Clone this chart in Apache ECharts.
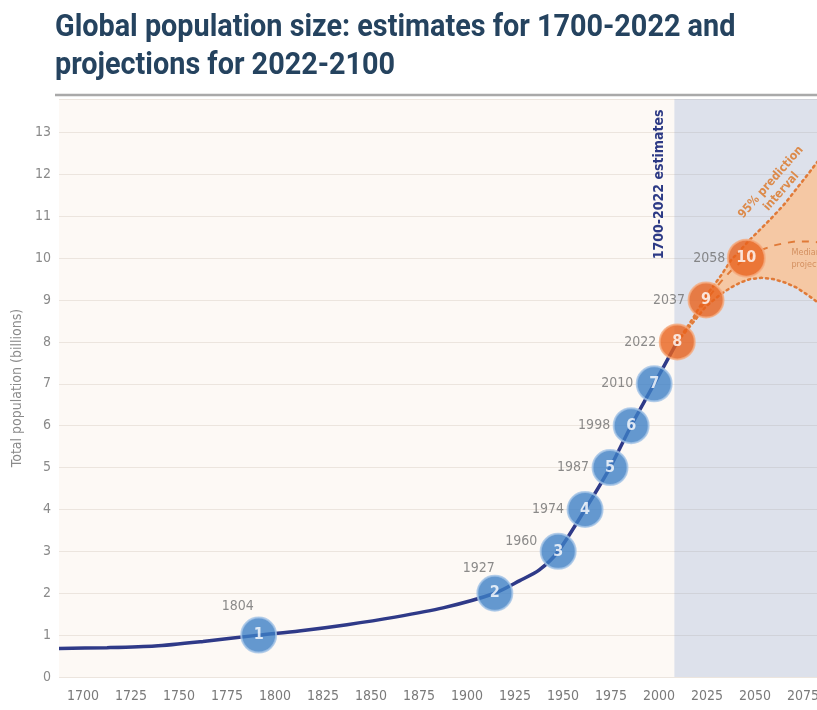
<!DOCTYPE html>
<html><head><meta charset="utf-8">
<script src="https://cdn.jsdelivr.net/npm/echarts@6/dist/echarts.min.js"></script>
<style>html,body{margin:0;padding:0;background:#fff}#c{width:817px;height:710px}</style>
</head><body><div id="c"></div>
<script>
// ---- data ----
const histYears = [1700, 1725, 1750, 1775, 1804, 1825, 1850, 1875, 1900, 1927, 1940, 1950, 1960, 1974, 1987, 1998, 2010, 2022];
const histPop   = [0.68, 0.70, 0.74, 0.85, 1.0, 1.10, 1.25, 1.43, 1.65, 2.0, 2.30, 2.55, 3.0, 4.0, 5.0, 6.0, 7.0, 8.0];
const projYears = [2022, 2030, 2037, 2045, 2050, 2055, 2060, 2066, 2072, 2078, 2084, 2090, 2095, 2100];
const medianPop = [8.0, 8.5, 9.0, 9.45, 9.7, 9.9, 10.05, 10.2, 10.3, 10.36, 10.4, 10.4, 10.38, 10.35];
const lowerPop  = [8.0, 8.45, 8.85, 9.15, 9.3, 9.42, 9.5, 9.53, 9.5, 9.42, 9.3, 9.12, 8.95, 8.75];
const upperPop  = [8.0, 8.55, 9.1, 9.6, 9.95, 10.2, 10.45, 10.72, 11.0, 11.3, 11.65, 12.0, 12.3, 12.55];
const milestoneYears = [1804, 1927, 1960, 1974, 1987, 1998, 2010, 2022, 2037, 2058];
const milestonePop   = [1, 2, 3, 4, 5, 6, 7, 8, 9, 10];
const milestoneNums  = ['1', '2', '3', '4', '5', '6', '7', '8', '9', '10'];
const titleText = 'Global population size: estimates for 1700-2022 and\nprojections for 2022-2100';
const yAxisName = 'Total population (billions)';
const estimatesLabel = '1700-2022 estimates';
const intervalLabel = '95% prediction\ninterval';
const medianLabel = 'Median\nprojection';
const projectionStart = 2020.5, projectionEnd = 2100;

// ---- styles ----
const NARROW = "'Liberation Sans Narrow','DejaVu Sans Condensed','Roboto',sans-serif";
const BLUE = '#3d80c6', BLUE_RING = '#a3c3e6';
const ORANGE = '#e8611c', ORANGE_RING = '#f5ab80';
const LINE_ORANGE = '#e07a38';

const pair = (xs, ys) => xs.map((x, i) => [x, ys[i]]);

const milestoneData = milestoneYears.map((y, i) => {
  const proj = y >= 2022;
  return {
    value: [y, milestonePop[i]],
    symbolSize: i === 9 ? 37 : 35,
    itemStyle: { color: proj ? ORANGE : BLUE, borderColor: proj ? ORANGE_RING : BLUE_RING, borderWidth: 2 },
    label: { formatter: milestoneNums[i] }
  };
});
const yearLabelData = milestoneYears.map((y, i) => {
  const d = { value: [y, milestonePop[i]], label: { formatter: String(y) } };
  if (i === 0) Object.assign(d.label, { position: 'top', distance: 5, offset: [-21, 0] });
  if (i === 1) Object.assign(d.label, { position: 'top', distance: 1, offset: [-16, 0] });
  if (i === 2) Object.assign(d.label, { offset: [0, -10] });
  return d;
});

const chart = echarts.init(document.getElementById('c'), null, { renderer: 'canvas' });
const option = {
  animation: false,
  backgroundColor: '#ffffff',
  grid: { left: 59, right: -10, top: 99, bottom: 33, show: true, backgroundColor: '#fdf9f5', borderWidth: 0,
          containLabel: false, outerBoundsMode: 'none' },
  xAxis: {
    type: 'value', min: 1700, max: 2100, interval: 25,
    axisLine: { show: false }, axisTick: { show: false }, splitLine: { show: false },
    axisLabel: { color: '#7a7a7a', fontFamily: NARROW, fontSize: 14, margin: 12, padding: [0, 0, 0, 48],
                 hideOverlap: false, formatter: v => String(v) }
  },
  yAxis: {
    type: 'value', min: 0, max: 13.8, interval: 1,
    name: yAxisName, nameLocation: 'middle', nameGap: 31,
    nameTextStyle: { color: '#8a8a8a', fontFamily: NARROW, fontSize: 14 },
    axisLine: { show: false }, axisTick: { show: false },
    axisLabel: { color: '#8a8a8a', fontFamily: NARROW, fontSize: 14, margin: 8,
                 formatter: v => (Math.abs(v - Math.round(v)) < 1e-6 ? String(Math.round(v)) : '') },
    splitLine: { lineStyle: { color: '#ece5de', width: 1.2 } }
  },
  series: [
    {
      name: 'projectionShade', type: 'custom', data: [[projectionStart, projectionEnd]], z: 0, silent: true,
      renderItem: (params, api) => {
        const a = api.coord([api.value(0), 13.8]);
        const b = api.coord([api.value(1), 0]);
        return { type: 'rect', shape: { x: a[0], y: a[1], width: b[0] - a[0], height: b[1] - a[1] },
                 style: { fill: 'rgba(115,145,205,0.23)' } };
      }
    },
    {
      name: 'band', type: 'custom', data: [[0]], z: 1, silent: true,
      renderItem: (params, api) => {
        const pts = [];
        projYears.forEach((x, i) => pts.push(api.coord([x, upperPop[i]])));
        for (let i = projYears.length - 1; i >= 0; i--) pts.push(api.coord([projYears[i], lowerPop[i]]));
        return { type: 'polygon', shape: { points: pts }, style: { fill: '#f5c8a4' } };
      }
    },
    {
      name: 'median', type: 'line', data: pair(projYears, medianPop), symbol: 'none',
      lineStyle: { color: LINE_ORANGE, width: 2, type: [7, 7] }, z: 2
    },
    {
      name: 'lower', type: 'line', data: pair(projYears, lowerPop), symbol: 'none',
      lineStyle: { color: LINE_ORANGE, width: 2.5, type: [2, 4], cap: 'round' }, z: 2
    },
    {
      name: 'upper', type: 'line', data: pair(projYears, upperPop), symbol: 'none',
      lineStyle: { color: LINE_ORANGE, width: 2.5, type: [2, 4], cap: 'round' }, z: 2
    },
    {
      name: 'estimates', type: 'line', data: pair(histYears, histPop), symbol: 'none', smooth: 0.25,
      lineStyle: { color: '#2f3a88', width: 3.5 }, z: 3
    },
    {
      name: 'yearLabels', type: 'scatter', data: yearLabelData, symbolSize: 34,
      itemStyle: { color: 'rgba(0,0,0,0)' }, z: 4, silent: true,
      label: { show: true, position: 'left', distance: 4, color: '#6e6e6e', fontFamily: NARROW, fontSize: 14 }
    },
    {
      name: 'milestones', type: 'scatter', data: milestoneData, z: 5,
      label: { show: true, position: 'inside', color: '#ffffff', fontFamily: NARROW, fontWeight: 'bold', fontSize: 16 }
    }
  ]
};
chart.setOption(option);

const px = (x, y) => chart.convertToPixel({ gridIndex: 0 }, [x, y]);
const pEst = px(2022, 11.76);
const pInt = px(2073.5, 11.7);
const pMed = px(2081.5, 10.0);
chart.setOption({
  graphic: [
    { type: 'text', x: 55, y: 9, scaleX: 0.9, z: 10,
      style: { text: titleText, fill: '#25435f', font: "bold 32px Roboto, 'DejaVu Sans', sans-serif", lineHeight: 38 } },
    { type: 'line', shape: { x1: 55, y1: 95, x2: 817, y2: 95 }, style: { stroke: '#a9a9a9', lineWidth: 2.5 }, z: 10 },
    { type: 'text', x: pEst[0] - 18, y: pEst[1], rotation: Math.PI / 2, z: 10,
      style: { text: estimatesLabel, fill: '#2d3a85', font: "bold 14px " + NARROW, textAlign: 'center', textVerticalAlign: 'middle' } },
    { type: 'text', x: pInt[0], y: pInt[1], rotation: 0.85, z: 10,
      style: { text: intervalLabel, fill: '#dc8a4a', font: "bold 12px " + NARROW, textAlign: 'center', textVerticalAlign: 'middle', lineHeight: 14 } },
    { type: 'text', x: pMed[0], y: pMed[1], z: 10,
      style: { text: medianLabel, fill: '#d49060', font: "9px " + NARROW, textAlign: 'left', textVerticalAlign: 'middle', lineHeight: 12 } }
  ]
});
</script>
</body></html>
